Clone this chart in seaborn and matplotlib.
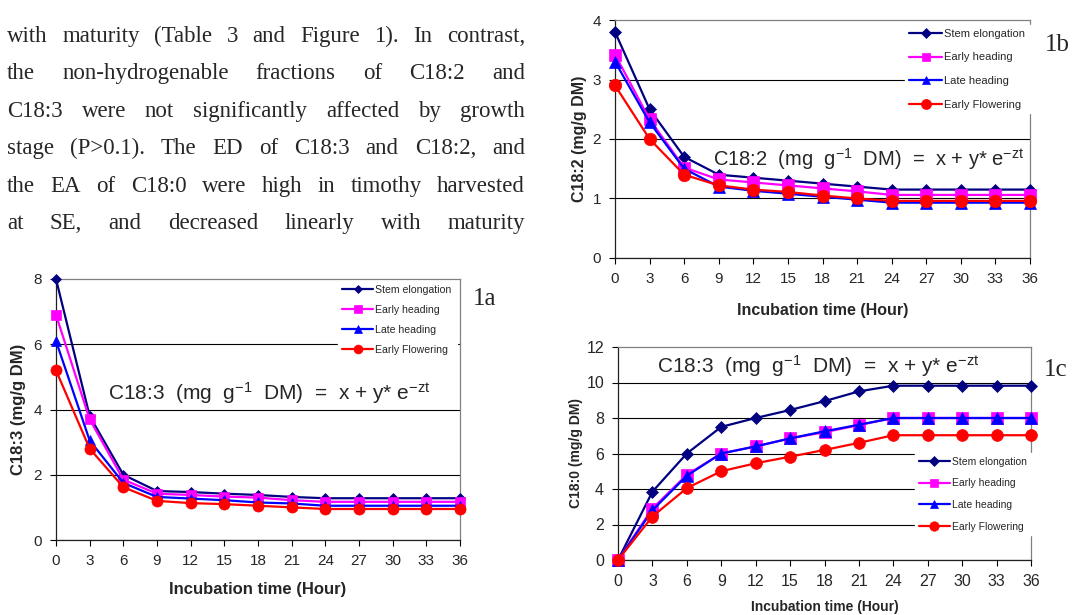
import numpy as np
import pandas as pd
import seaborn as sns
import matplotlib
matplotlib.use('Agg')
import matplotlib.pyplot as plt

W, H = 1072, 615

# temps d'incubation et stades de croissance
temps = [0, 3, 6, 9, 12, 15, 18, 21, 24, 27, 30, 33, 36]
stades = ['Stem elongation', 'Early heading', 'Late heading', 'Early Flowering']
couleurs = ['#000080', '#FF00FF', '#0000FF', '#FF0000']
marqueurs = ['D', 's', '^', 'o']

# figure 1a : C18:3
c183_stem = [8.0, 3.8, 2.0, 1.5, 1.47, 1.42, 1.38, 1.32, 1.28, 1.28, 1.28, 1.28, 1.28]
c183_early_head = [6.9, 3.7, 1.85, 1.42, 1.38, 1.33, 1.3, 1.22, 1.17, 1.17, 1.17, 1.17, 1.17]
c183_late_head = [6.1, 3.05, 1.75, 1.32, 1.27, 1.22, 1.15, 1.12, 1.05, 1.05, 1.05, 1.05, 1.05]
c183_early_flow = [5.2, 2.8, 1.62, 1.2, 1.13, 1.1, 1.05, 1.0, 0.95, 0.95, 0.95, 0.95, 0.95]

# figure 1b : C18:2
c182_stem = [3.8, 2.5, 1.7, 1.4, 1.35, 1.3, 1.25, 1.2, 1.15, 1.15, 1.15, 1.15, 1.15]
c182_early_head = [3.42, 2.33, 1.52, 1.32, 1.27, 1.22, 1.17, 1.12, 1.06, 1.06, 1.06, 1.06, 1.06]
c182_late_head = [3.3, 2.28, 1.5, 1.2, 1.13, 1.08, 1.03, 0.98, 0.93, 0.93, 0.93, 0.93, 0.93]
c182_early_flow = [2.9, 2.0, 1.4, 1.22, 1.15, 1.11, 1.05, 1.0, 0.96, 0.96, 0.96, 0.96, 0.96]

# figure 1c : C18:0
c180_stem = [0, 3.85, 6.0, 7.5, 8.0, 8.45, 8.95, 9.5, 9.82, 9.82, 9.82, 9.82, 9.82]
c180_early_head = [0, 2.9, 4.8, 6.0, 6.4, 6.85, 7.2, 7.6, 8.0, 8.0, 8.0, 8.0, 8.0]
c180_late_head = [0, 2.8, 4.75, 6.0, 6.4, 6.85, 7.25, 7.62, 8.0, 8.0, 8.0, 8.0, 8.0]
c180_early_flow = [0, 2.45, 4.05, 5.0, 5.45, 5.82, 6.2, 6.6, 7.03, 7.03, 7.03, 7.03, 7.03]

# texte de l'article
lignes_texte = [
    'with maturity (Table 3 and Figure 1). In contrast,',
    'the non-hydrogenable fractions of C18:2 and',
    'C18:3 were not significantly affected by growth',
    'stage (P>0.1). The ED of C18:3 and C18:2, and',
    'the EA of C18:0 were high in timothy harvested',
    'at SE, and decreased linearly with maturity',
]

sns.set_style('white')
plt.rcParams['font.family'] = ['Liberation Sans', 'DejaVu Sans']
plt.rcParams['mathtext.fontset'] = 'custom'
plt.rcParams['mathtext.rm'] = 'Liberation Sans'
plt.rcParams['mathtext.it'] = 'Liberation Sans'

fig = plt.figure(figsize=(W / 100, H / 100), dpi=100)


def axes_px(left, right, top, bottom):
    return fig.add_axes([left / W, 1 - bottom / H, (right - left) / W, (bottom - top) / H])


def tracer(ax, valeurs, tailles, ymax, ystep, ylabel, box, lab_x, lab_y,
           fs_tick, fs_lab, fs_leg, leg_spacing):
    df = pd.DataFrame({
        'temps': temps * len(stades),
        'valeur': sum(valeurs, []),
        'stade': np.repeat(stades, len(temps)),
    })
    sns.lineplot(data=df, x='temps', y='valeur', hue='stade', style='stade',
                 hue_order=stades, style_order=stades, palette=couleurs,
                 markers=marqueurs, dashes=False, errorbar=None, linewidth=1.6,
                 legend=False, ax=ax)
    for ligne, taille, c in zip(ax.lines, tailles, couleurs):
        ligne.set_markersize(taille)
        ligne.set_markeredgecolor(c)
        ligne.set_markeredgewidth(0.5)
        ligne.set_clip_on(False)
        ligne.set_zorder(3)

    ax.set_xlim(0, 36)
    ax.set_ylim(0, ymax)
    ax.set_xticks(temps)
    ax.set_yticks(np.arange(0, ymax + 0.01, ystep))
    ax.yaxis.grid(True, color='black', linewidth=0.8)
    ax.xaxis.grid(False)
    ax.set_axisbelow(True)
    ax.yaxis.get_gridlines()[-1].set_visible(False)
    for cote in ['top', 'right']:
        ax.spines[cote].set_color('#808080')
    for cote in ['left', 'bottom']:
        ax.spines[cote].set_color('#202020')
    for sp in ax.spines.values():
        sp.set_linewidth(0.9)
    ax.tick_params(direction='out', length=4, width=0.8, color='black',
                   labelsize=fs_tick, pad=6, left=True, bottom=True)

    ax.set_xlabel('Incubation time (Hour)', fontweight='bold', fontsize=fs_lab)
    ax.set_ylabel(ylabel, fontweight='bold', fontsize=fs_lab)
    ax.xaxis.set_label_coords(0.5, lab_x)
    ax.yaxis.set_label_coords(lab_y, 0.5)

    # legende sur fond blanc (boite en pixels : gauche, haut, droite, bas)
    x0, y0, x1, y1 = box
    leg = ax.legend(ax.lines[:4], stades, loc='upper left',
                    bbox_to_anchor=(x0 / W, 1 - y1 / H, (x1 - x0) / W, (y1 - y0) / H),
                    bbox_transform=fig.transFigure, mode='expand',
                    fontsize=fs_leg, frameon=True, fancybox=False,
                    borderaxespad=0, borderpad=0.35, handlelength=3.0,
                    handletextpad=0.2, labelspacing=leg_spacing,
                    markerscale=0.8)
    leg.get_frame().set_facecolor('white')
    leg.get_frame().set_edgecolor('white')
    leg.get_frame().set_alpha(1)
    leg.set_zorder(5)


# figure 1a
ax_a = axes_px(56, 460, 279, 540)
tracer(ax_a, [c183_stem, c183_early_head, c183_late_head, c183_early_flow],
       [5, 7, 7, 8], 8, 2, 'C18:3 (mg/g DM)', (338, 281, 457, 362),
       -0.16, -0.075, 11, 12, 7.6, 0.95)

# figure 1b
ax_b = axes_px(615, 1030, 20, 258)
tracer(ax_b, [c182_stem, c182_early_head, c182_late_head, c182_early_flow],
       [6, 8, 8, 9], 4, 1, 'C18:2 (mg/g DM)', (905, 25, 1035, 117),
       -0.19, -0.068, 11, 11.5, 8, 1.22)

# figure 1c
ax_c = axes_px(618, 1031, 347, 560)
tracer(ax_c, [c180_stem, c180_early_head, c180_late_head, c180_early_flow],
       [6, 8, 8, 8.5], 12, 2, 'C18:0 (mg/g DM)', (915, 453, 1036, 538),
       -0.19, -0.085, 11.5, 10, 7.5, 1.12)

# equations
eq = r'%s  (mg  g$^{-1}$  DM)  =  x + y* e$^{\mathrm{-zt}}$'
fig.text(108 / W, 1 - 400 / H, eq % 'C18:3', fontsize=15, va='baseline')
fig.text(713 / W, 1 - 166 / H, eq % 'C18:2', fontsize=14.5, va='baseline')
fig.text(657 / W, 1 - 373 / H, eq % 'C18:3', fontsize=15, va='baseline')

# numeros des panneaux
for lab, x, y in [('1a', 485, 299), ('1b', 1057, 45), ('1c', 1056, 370)]:
    fig.text(x / W, 1 - y / H, lab, family='Liberation Serif', fontsize=18,
             ha='center', va='center')

# paragraphe justifie
fig.canvas.draw()
rend = fig.canvas.get_renderer()
gauche, droite = 7, 525
for i, ligne in enumerate(lignes_texte):
    mots = ligne.split(' ')
    y = 1 - (42 + i * 37.4) / H
    objets = [fig.text(0, y, m, family='Liberation Serif', fontsize=16.5,
                       va='baseline') for m in mots]
    largeurs = [t.get_window_extent(rend).width for t in objets]
    ecart = (droite - gauche - sum(largeurs)) / (len(mots) - 1)
    x = gauche
    for t, w in zip(objets, largeurs):
        t.set_x(x / W)
        x += w + ecart

fig.savefig('out.png', dpi=100)
